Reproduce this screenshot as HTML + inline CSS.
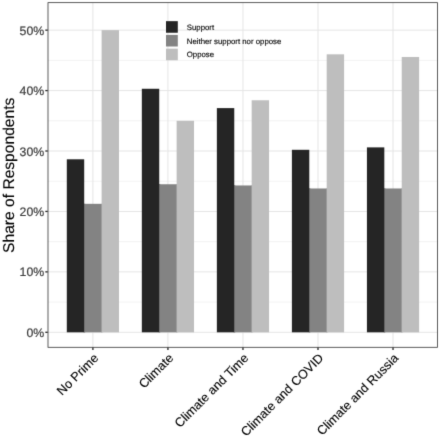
<!DOCTYPE html>
<html><head><meta charset="utf-8"><style>
html,body{margin:0;padding:0;background:#fff;}
svg{display:block;will-change:transform;text-rendering:geometricPrecision;font-family:"Liberation Sans",sans-serif;}
</style></head><body>
<svg width="440" height="436" viewBox="0 0 440 436">
<defs><filter id="bl" x="0" y="0" width="440" height="436" filterUnits="userSpaceOnUse" color-interpolation-filters="sRGB"><feConvolveMatrix order="3" kernelMatrix="0.01134 0.08382 0.01134 0.08382 0.61935 0.08382 0.01134 0.08382 0.01134" divisor="1" edgeMode="duplicate" preserveAlpha="false"/></filter></defs>
<g filter="url(#bl)">
<rect x="0" y="0" width="440" height="436" fill="#fff"/>
<line x1="48.0" x2="437.4" y1="302.09" y2="302.09" stroke="#e5e5e5" stroke-width="0.5"/>
<line x1="48.0" x2="437.4" y1="241.66" y2="241.66" stroke="#e5e5e5" stroke-width="0.5"/>
<line x1="48.0" x2="437.4" y1="181.23" y2="181.23" stroke="#e5e5e5" stroke-width="0.5"/>
<line x1="48.0" x2="437.4" y1="120.80" y2="120.80" stroke="#e5e5e5" stroke-width="0.5"/>
<line x1="48.0" x2="437.4" y1="60.37" y2="60.37" stroke="#e5e5e5" stroke-width="0.5"/>
<line x1="48.0" x2="437.4" y1="332.30" y2="332.30" stroke="#e5e5e5" stroke-width="1"/>
<line x1="48.0" x2="437.4" y1="271.87" y2="271.87" stroke="#e5e5e5" stroke-width="1"/>
<line x1="48.0" x2="437.4" y1="211.44" y2="211.44" stroke="#e5e5e5" stroke-width="1"/>
<line x1="48.0" x2="437.4" y1="151.01" y2="151.01" stroke="#e5e5e5" stroke-width="1"/>
<line x1="48.0" x2="437.4" y1="90.58" y2="90.58" stroke="#e5e5e5" stroke-width="1"/>
<line x1="48.0" x2="437.4" y1="30.15" y2="30.15" stroke="#e5e5e5" stroke-width="1"/>
<line x1="92.90" x2="92.90" y1="2.65" y2="347.3" stroke="#e5e5e5" stroke-width="1"/>
<line x1="167.93" x2="167.93" y1="2.65" y2="347.3" stroke="#e5e5e5" stroke-width="1"/>
<line x1="242.96" x2="242.96" y1="2.65" y2="347.3" stroke="#e5e5e5" stroke-width="1"/>
<line x1="317.99" x2="317.99" y1="2.65" y2="347.3" stroke="#e5e5e5" stroke-width="1"/>
<line x1="393.02" x2="393.02" y1="2.65" y2="347.3" stroke="#e5e5e5" stroke-width="1"/>
<rect x="66.80" y="159.29" width="17.40" height="173.01" fill="#252525"/>
<rect x="83.70" y="203.83" width="1.5" height="128.47" fill="#252525"/>
<rect x="84.20" y="203.83" width="17.40" height="128.47" fill="#838383"/>
<rect x="101.10" y="203.83" width="1.5" height="128.47" fill="#838383"/>
<rect x="101.60" y="30.15" width="17.40" height="302.15" fill="#bebebe"/>
<rect x="141.83" y="88.77" width="17.40" height="243.53" fill="#252525"/>
<rect x="158.73" y="184.25" width="1.5" height="148.05" fill="#252525"/>
<rect x="159.23" y="184.25" width="17.40" height="148.05" fill="#838383"/>
<rect x="176.13" y="184.25" width="1.5" height="148.05" fill="#838383"/>
<rect x="176.63" y="120.80" width="17.40" height="211.50" fill="#bebebe"/>
<rect x="216.86" y="108.10" width="17.40" height="224.20" fill="#252525"/>
<rect x="233.76" y="185.46" width="1.5" height="146.84" fill="#252525"/>
<rect x="234.26" y="185.46" width="17.40" height="146.84" fill="#838383"/>
<rect x="251.16" y="185.46" width="1.5" height="146.84" fill="#838383"/>
<rect x="251.66" y="100.25" width="17.40" height="232.05" fill="#bebebe"/>
<rect x="291.89" y="149.80" width="17.40" height="182.50" fill="#252525"/>
<rect x="308.79" y="188.48" width="1.5" height="143.82" fill="#252525"/>
<rect x="309.29" y="188.48" width="17.40" height="143.82" fill="#838383"/>
<rect x="326.19" y="188.48" width="1.5" height="143.82" fill="#838383"/>
<rect x="326.69" y="54.32" width="17.40" height="277.98" fill="#bebebe"/>
<rect x="366.92" y="147.38" width="17.40" height="184.92" fill="#252525"/>
<rect x="383.82" y="188.48" width="1.5" height="143.82" fill="#252525"/>
<rect x="384.32" y="188.48" width="17.40" height="143.82" fill="#838383"/>
<rect x="401.22" y="188.48" width="1.5" height="143.82" fill="#838383"/>
<rect x="401.72" y="56.98" width="17.40" height="275.32" fill="#bebebe"/>
<rect x="48.0" y="2.65" width="389.40" height="344.65" fill="none" stroke="#333" stroke-width="0.8"/>
<line x1="45.3" x2="47.7" y1="332.30" y2="332.30" stroke="#222" stroke-width="1.3"/>
<text x="44.20" y="336.80" text-anchor="end" font-size="12.3" fill="#3d3d3d" stroke="#3d3d3d" stroke-width="0.2">0%</text>
<line x1="45.3" x2="47.7" y1="271.87" y2="271.87" stroke="#222" stroke-width="1.3"/>
<text x="44.20" y="276.37" text-anchor="end" font-size="12.3" fill="#3d3d3d" stroke="#3d3d3d" stroke-width="0.2">10%</text>
<line x1="45.3" x2="47.7" y1="211.44" y2="211.44" stroke="#222" stroke-width="1.3"/>
<text x="44.20" y="215.94" text-anchor="end" font-size="12.3" fill="#3d3d3d" stroke="#3d3d3d" stroke-width="0.2">20%</text>
<line x1="45.3" x2="47.7" y1="151.01" y2="151.01" stroke="#222" stroke-width="1.3"/>
<text x="44.20" y="155.51" text-anchor="end" font-size="12.3" fill="#3d3d3d" stroke="#3d3d3d" stroke-width="0.2">30%</text>
<line x1="45.3" x2="47.7" y1="90.58" y2="90.58" stroke="#222" stroke-width="1.3"/>
<text x="44.20" y="95.08" text-anchor="end" font-size="12.3" fill="#3d3d3d" stroke="#3d3d3d" stroke-width="0.2">40%</text>
<line x1="45.3" x2="47.7" y1="30.15" y2="30.15" stroke="#222" stroke-width="1.3"/>
<text x="44.20" y="34.65" text-anchor="end" font-size="12.3" fill="#3d3d3d" stroke="#3d3d3d" stroke-width="0.2">50%</text>
<line x1="92.90" x2="92.90" y1="347.6" y2="350.1" stroke="#222" stroke-width="1.3"/>
<text transform="translate(99.10,358.9) rotate(-45)" text-anchor="end" font-size="12.6" fill="#000" stroke="#000" stroke-width="0.12">No Prime</text>
<line x1="167.93" x2="167.93" y1="347.6" y2="350.1" stroke="#222" stroke-width="1.3"/>
<text transform="translate(174.13,358.9) rotate(-45)" text-anchor="end" font-size="12.6" fill="#000" stroke="#000" stroke-width="0.12">Climate</text>
<line x1="242.96" x2="242.96" y1="347.6" y2="350.1" stroke="#222" stroke-width="1.3"/>
<text transform="translate(249.16,358.9) rotate(-45)" text-anchor="end" font-size="12.6" fill="#000" stroke="#000" stroke-width="0.12">Climate and Time</text>
<line x1="317.99" x2="317.99" y1="347.6" y2="350.1" stroke="#222" stroke-width="1.3"/>
<text transform="translate(324.19,358.9) rotate(-45)" text-anchor="end" font-size="12.6" fill="#000" stroke="#000" stroke-width="0.12">Climate and COVID</text>
<line x1="393.02" x2="393.02" y1="347.6" y2="350.1" stroke="#222" stroke-width="1.3"/>
<text transform="translate(399.22,358.9) rotate(-45)" text-anchor="end" font-size="12.6" fill="#000" stroke="#000" stroke-width="0.12">Climate and Russia</text>
<text transform="translate(14,175.3) rotate(-90)" text-anchor="middle" font-size="15.6" fill="#000" stroke="#000" stroke-width="0.12">Share of Respondents</text>
<rect x="166.0" y="21.15" width="11.8" height="11.6" fill="#252525"/>
<text x="186.8" y="29.90" font-size="7.8" fill="#000" stroke="#000" stroke-width="0.12">Support</text>
<rect x="166.0" y="34.90" width="11.8" height="11.6" fill="#838383"/>
<text x="186.8" y="43.65" font-size="7.8" fill="#000" stroke="#000" stroke-width="0.12">Neither support nor oppose</text>
<rect x="166.0" y="48.65" width="11.8" height="11.6" fill="#bebebe"/>
<text x="186.8" y="57.40" font-size="7.8" fill="#000" stroke="#000" stroke-width="0.12">Oppose</text>
</g>
</svg>
</body></html>
